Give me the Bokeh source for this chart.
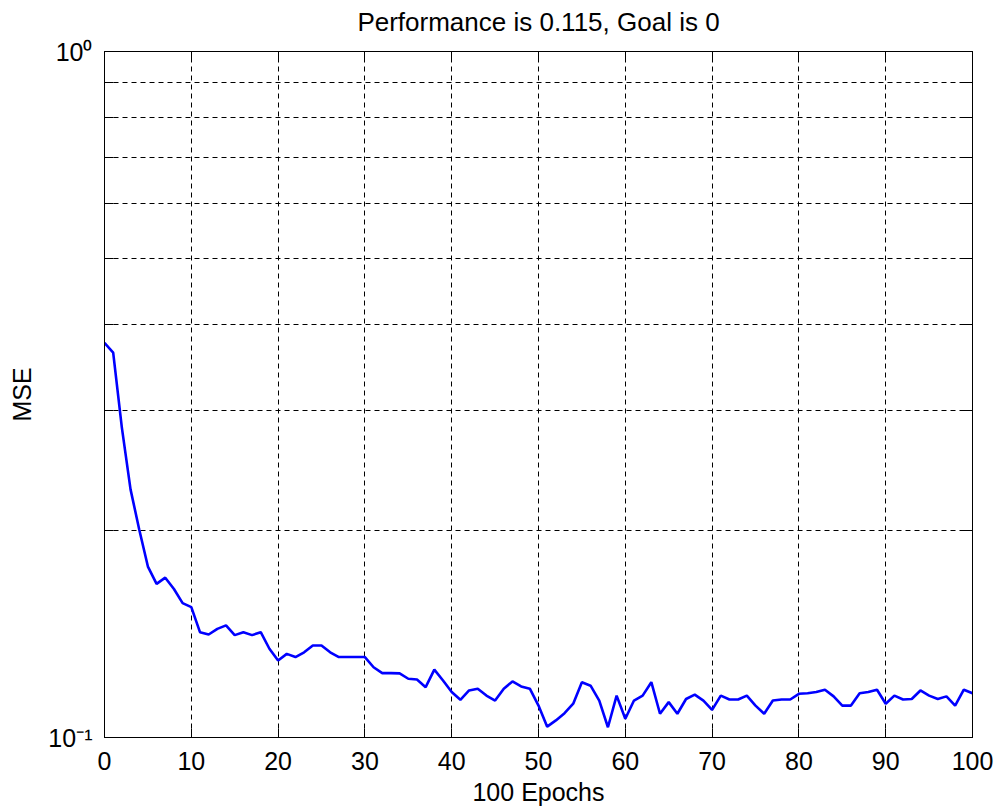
from bokeh.plotting import figure
from bokeh.models import FixedTicker, LinearAxis, LogAxis, Range1d
from bokeh.embed import file_html
from bokeh.resources import INLINE

# ---- data ----
epochs = list(range(0, 101))
mse = [
    0.376, 0.364, 0.283, 0.230, 0.201, 0.1775, 0.1675, 0.171, 0.1646, 0.157,
    0.1549, 0.1424, 0.1413, 0.144, 0.1457, 0.141, 0.1424, 0.141, 0.1424, 0.1347,
    0.1295, 0.1324, 0.131, 0.1331, 0.1362, 0.1362, 0.1331, 0.131, 0.131, 0.131,
    0.131, 0.1266, 0.1241, 0.1241, 0.124, 0.1218, 0.1215, 0.1184, 0.1256, 0.1211,
    0.1165, 0.1135, 0.1171, 0.1178, 0.1151, 0.1132, 0.1178, 0.1207, 0.1187, 0.1178,
    0.1113, 0.1037, 0.1059, 0.1085, 0.112, 0.1204, 0.119, 0.1132, 0.1035, 0.1151,
    0.1065, 0.1132, 0.1151, 0.1204, 0.1083, 0.1126, 0.1083, 0.1138, 0.1155, 0.1132,
    0.1097, 0.1151, 0.1136, 0.1136, 0.1151, 0.1113, 0.1083, 0.1132, 0.1136, 0.1136,
    0.1158, 0.116, 0.1165, 0.1174, 0.1148, 0.1113, 0.1113, 0.116, 0.1165, 0.1174,
    0.112, 0.1151, 0.1136, 0.1138, 0.1171, 0.1151, 0.1138, 0.1148, 0.1113, 0.1174,
    0.116,
]
x_ticks = [0, 10, 20, 30, 40, 50, 60, 70, 80, 90, 100]
y_ticks = [0.1, 0.2, 0.3, 0.4, 0.5, 0.6, 0.7, 0.8, 0.9, 1.0]
y_tick_labels = {1.0: "10\u2070", 0.1: "10\u207b\u00b9"}
title_text = "Performance is 0.115, Goal is 0"
x_label = "100 Epochs"
y_label = "MSE"

FONT = "Liberation Sans"

p = figure(
    width=997, height=809, output_backend="svg", toolbar_location=None,
    x_range=Range1d(0, 100), y_range=Range1d(0.1, 1.0), y_axis_type="log",
    min_border_left=104, min_border_right=25, min_border_top=51, min_border_bottom=72,
)
p.background_fill_color = "white"
p.border_fill_color = "white"
p.outline_line_color = "black"
p.outline_line_width = 1
p.outline_line_alpha = 1.0

# bottom axis
xa = p.xaxis[0]
xa.ticker = FixedTicker(ticks=x_ticks)
xa.major_tick_in = 9
xa.major_tick_out = 0
xa.minor_tick_in = 0
xa.minor_tick_out = 0
xa.major_tick_line_color = "black"
xa.axis_line_color = "black"
xa.major_label_text_font = FONT
xa.major_label_text_font_size = "25px"
xa.major_label_text_color = "black"
xa.major_label_text_line_height = 1.0
xa.major_label_standoff = 14
xa.axis_label = x_label
xa.axis_label_text_font = FONT
xa.axis_label_text_font_size = "25px"
xa.axis_label_text_font_style = "normal"
xa.axis_label_text_color = "black"
xa.axis_label_text_line_height = 1.0
xa.axis_label_standoff = 5

# left axis
ya = p.yaxis[0]
ya.ticker = FixedTicker(ticks=y_ticks)
ya.major_tick_in = 9
ya.major_tick_out = 0
ya.minor_tick_in = 0
ya.minor_tick_out = 0
ya.major_tick_line_color = "black"
ya.axis_line_color = "black"
overrides = {t: "" for t in y_ticks}
overrides.update(y_tick_labels)
ya.major_label_overrides = overrides
ya.major_label_text_font = FONT
ya.major_label_text_font_size = "25px"
ya.major_label_text_color = "black"
ya.major_label_standoff = 12
ya.axis_label = y_label
ya.axis_label_text_font = FONT
ya.axis_label_text_font_size = "25px"
ya.axis_label_text_font_style = "normal"
ya.axis_label_text_color = "black"
ya.axis_label_standoff = 9

# mirrored top axis (ticks only) carrying the title text as its label
top = LinearAxis(ticker=FixedTicker(ticks=x_ticks), major_label_text_font_size="0px",
                 major_tick_in=9, major_tick_out=0, minor_tick_in=0, minor_tick_out=0,
                 major_label_standoff=0, axis_line_color="black", major_tick_line_color="black",
                 axis_label=title_text, axis_label_text_font=FONT,
                 axis_label_text_font_size="26px", axis_label_text_font_style="normal",
                 axis_label_text_color="black", axis_label_standoff=15)
p.add_layout(top, "above")
right = LogAxis(ticker=FixedTicker(ticks=y_ticks), major_label_text_font_size="0px",
                major_tick_in=9, major_tick_out=0, minor_tick_in=0, minor_tick_out=0,
                major_label_standoff=0, axis_line_color="black", major_tick_line_color="black")
p.add_layout(right, "right")

# grid
for g, t in ((p.xgrid[0], x_ticks), (p.ygrid[0], y_ticks)):
    g.ticker = FixedTicker(ticks=t)
    g.grid_line_color = "black"
    g.grid_line_alpha = 1.0
    g.grid_line_width = 1
    g.grid_line_dash = "5 4"

p.line(epochs, mse, line_color="#0000ff", line_width=2.6)

open("out.html", "w").write(file_html(p, INLINE))
